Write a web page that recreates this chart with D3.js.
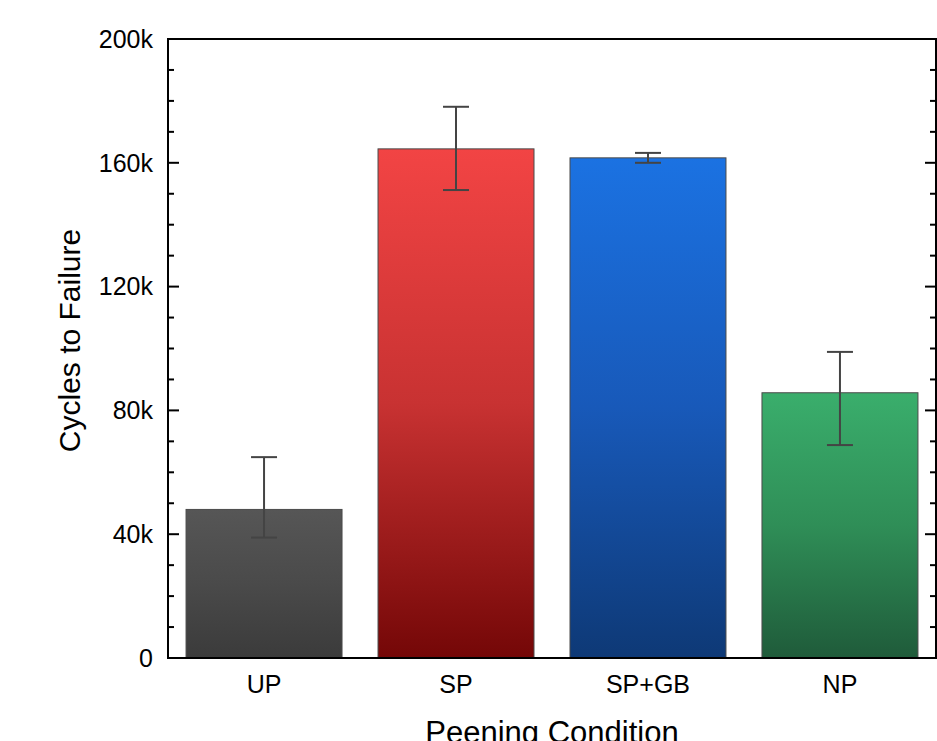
<!DOCTYPE html>
<html>
<head>
<meta charset=utf-8>
<title>Cycles to Failure</title>
<style>
body{margin: 0; background: #fff;}
#chart text{font-family: Arial, "Liberation Sans", sans-serif; fill: #000;}
.frame{fill: none; stroke: #000; stroke-width: 2;}
.tick-in{stroke: #000; stroke-width: 2;}
.bar{stroke: #4a4a4a; stroke-width: 1;}
.err line{stroke: #444; stroke-width: 2;}
</style>
</head>
<body>
<svg id=chart width=937 height=741></svg>
<script src="https://cdn.jsdelivr.net/npm/d3@7"></script>
<script>
// data
var conditions = ['UP', 'SP', 'SP+GB', 'NP'];
var cycles = [48000, 164500, 161600, 85700];
var errLow = [38900, 151200, 160000, 68800];
var errHigh = [64900, 178100, 163200, 98900];
var yTicks = [0, 40000, 80000, 120000, 160000, 200000];
var yTickLabels = ['0', '40k', '80k', '120k', '160k', '200k'];
var barColors = [['#565656', '#4a4a4a', '#3b3b3b'],
                 ['#f24444', '#c83232', '#740707'],
                 ['#1b72e2', '#1859b9', '#0e3976'],
                 ['#3aae6c', '#2f8e57', '#1f5b3a']];

var margin = {top: 39, right: 1, bottom: 83, left: 168};
var svg = d3.select('#chart');
var width = +svg.attr('width') - margin.left - margin.right;
var height = +svg.attr('height') - margin.top - margin.bottom;

var x = d3.scaleBand().domain(conditions).range([0, width]).paddingInner(0.1875).paddingOuter(0.094);
var y = d3.scaleLinear().domain([0, 200000]).range([height, 0]);

var data = conditions.map((c, i) => ({name: c, v: cycles[i], lo: errLow[i], hi: errHigh[i], col: barColors[i]}));

//gradients, one per bar
var defs = svg.append('defs');
data.forEach((d, i) => {
  var g = defs.append('linearGradient').attr('id', 'grad' + i)
      .attr('x1', 0).attr('y1', 0).attr('x2', 0).attr('y2', 1);
  d.col.forEach((c, j) => g.append('stop').attr('offset', j / (d.col.length - 1)).attr('stop-color', c));
});

var chart = svg.append('g').attr('transform', 'translate(' + margin.left + ',' + margin.top + ')');

//bars
chart.selectAll('rect.bar')
    .data(data)
  .enter().append('rect')
    .attr('class', 'bar')
    .attr('x', d => x(d.name))
    .attr('width', x.bandwidth())
    .attr('y', d => y(d.v))
    .attr('height', d => height - y(d.v))
    .attr('fill', (d, i) => 'url(#grad' + i + ')');

//error bars
var capW = 26;
var err = chart.selectAll('g.err')
    .data(data)
  .enter().append('g')
    .attr('class', 'err')
    .attr('transform', d => 'translate(' + (x(d.name) + x.bandwidth() / 2) + ',0)');
err.append('line').attr('x1', 0).attr('x2', 0).attr('y1', d => y(d.lo)).attr('y2', d => y(d.hi));
err.append('line').attr('x1', -capW / 2).attr('x2', capW / 2).attr('y1', d => y(d.hi)).attr('y2', d => y(d.hi));
err.append('line').attr('x1', -capW / 2).attr('x2', capW / 2).attr('y1', d => y(d.lo)).attr('y2', d => y(d.lo));

//y ticks, inward on left and right, minor every 10k
var minor = d3.range(0, 200001, 10000).filter(v => yTicks.indexOf(v) < 0);
[0, width].forEach(function(xp){
  var dir = xp === 0 ? 1 : -1;
  chart.append('g').selectAll('line')
      .data(yTicks)
    .enter().append('line')
      .attr('class', 'tick-in')
      .attr('x1', xp).attr('x2', xp + dir * 11)
      .attr('y1', d => y(d)).attr('y2', d => y(d));
  chart.append('g').selectAll('line')
      .data(minor)
    .enter().append('line')
      .attr('class', 'tick-in')
      .attr('x1', xp).attr('x2', xp + dir * 6)
      .attr('y1', d => y(d)).attr('y2', d => y(d));
});

//y tick labels
chart.append('g').selectAll('text')
    .data(yTicks)
  .enter().append('text')
    .attr('x', -15)
    .attr('y', d => y(d))
    .attr('dy', '0.35em')
    .attr('text-anchor', 'end')
    .style('font-size', '25px')
    .text((d, i) => yTickLabels[i]);

//x tick labels
chart.append('g').selectAll('text')
    .data(conditions)
  .enter().append('text')
    .attr('x', d => x(d) + x.bandwidth() / 2)
    .attr('y', height + 35)
    .attr('text-anchor', 'middle')
    .style('font-size', '25px')
    .text(d => d);

//frame
chart.append('rect').attr('class', 'frame')
    .attr('x', 0).attr('y', 0).attr('width', width).attr('height', height);

//axis titles
chart.append('text')
    .attr('text-anchor', 'middle')
    .attr('transform', 'rotate(-90)')
    .attr('x', -height / 2 + 8)
    .attr('y', -88)
    .style('font-size', '30px')
    .text('Cycles to Failure');

chart.append('text')
    .attr('text-anchor', 'middle')
    .attr('x', width / 2)
    .attr('y', height + 85)
    .style('font-size', '31px')
    .text('Peening Condition');
</script>
</body>
</html>
